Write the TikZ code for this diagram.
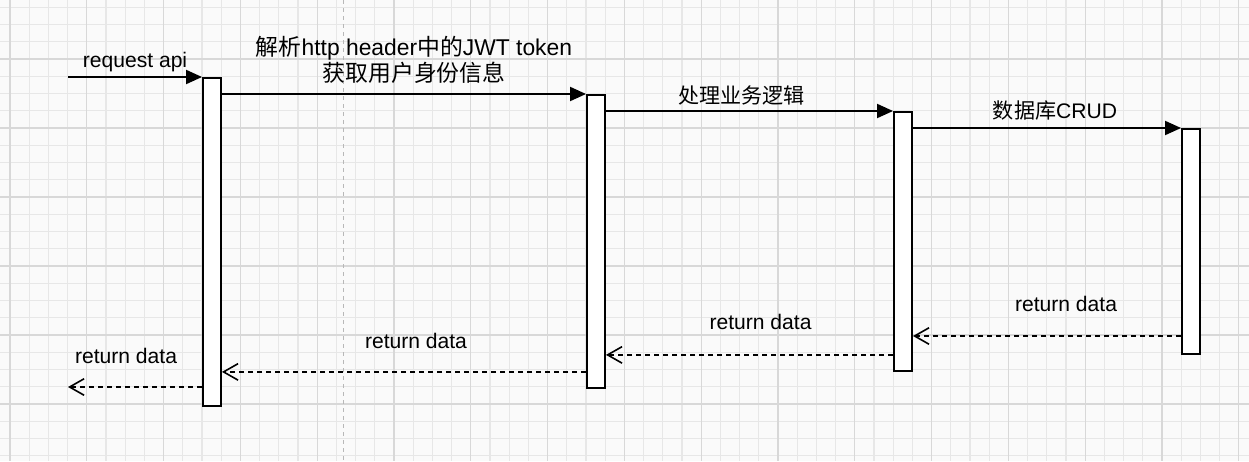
\documentclass[tikz,border=0pt]{standalone}
\usepackage{fontspec}
\setmainfont{Liberation Sans}
\newfontfamily\cjk{Noto Sans CJK SC}
\usepackage{xcolor}
\usetikzlibrary{arrows.meta,positioning,calc}

\definecolor{paper}{HTML}{FAFAFA}
\definecolor{gridlo}{HTML}{E7E7E7}
\definecolor{gridhi}{HTML}{D8D8D8}
\definecolor{guideline}{HTML}{B8B8B8}

\begin{document}
\begin{tikzpicture}[
  x=0.2mm, y=-0.2mm,
  every node/.style={font=\fontsize{12}{14}\selectfont},
  bar/.style={draw, fill=white, line width=0.38mm, minimum width=3.6mm, inner sep=0pt, anchor=north},
  call/.style={-{Triangle[length=3.2mm, width=2.8mm]}, line width=0.38mm},
  reply/.style={-{Straight Barb[length=2.9mm, width=3.3mm, line width=0.32mm]}, dash pattern=on 1mm off 0.8mm, line width=0.32mm},
  lbl/.style={align=center, inner sep=0pt},
  minorline/.style={gridlo, line width=0.22mm},
  majorline/.style={gridhi, line width=0.26mm}
]
  \useasboundingbox (0,0) rectangle (1249,461);

  % grid paper
  \fill[paper] (0,0) rectangle (1249,461);
  \foreach \k in {0,...,64}
    \draw[minorline] ({10+19.2*\k},0) -- ({10+19.2*\k},461);
  \foreach \k in {-7,...,19}
    \draw[minorline] (0,{128+17.25*\k}) -- (1249,{128+17.25*\k});
  \foreach \k in {0,...,16}
    \draw[majorline] ({10+76.8*\k},0) -- ({10+76.8*\k},461);
  \foreach \k in {-1,...,4}
    \draw[majorline] (0,{128+69*\k}) -- (1249,{128+69*\k});
  \draw[guideline, line width=0.2mm, dash pattern=on 0.8mm off 0.8mm] (343,0) -- (343,461);

  % activation bars
  \node[bar, minimum height=65.6mm] (b1) at (212,77) {};
  \node[bar, minimum height=58.6mm] (b2) at (596,94) {};
  \node[bar, minimum height=51.8mm] (b3) at (903,111) {};
  \node[bar, minimum height=45mm] (b4) at (1191,128) {};

  \coordinate (src) at (68,77);
  \coordinate (dst) at (68,387);
  \coordinate (r1) at (0,336);

  % calls
  \draw[call] (src) -- node[lbl, yshift=2.9mm]{request api} (b1.north west);
  \draw[call] (b1.east |- b2.north) -- node[lbl, yshift=6.8mm, xshift=2mm,
      font=\fontsize{13}{14.8}\selectfont]
      {{\cjk 解析}http header{\cjk 中的}JWT token\\{\cjk 获取用户身份信息}} (b2.north west);
  \draw[call] (b2.east |- b3.north) -- node[lbl, yshift=3.2mm, xshift=-1.6mm]{\cjk 处理业务逻辑} (b3.north west);
  \draw[call] (b3.east |- b4.north) -- node[lbl, yshift=3.4mm, xshift=1.6mm]{{\cjk 数据库}CRUD} (b4.north west);

  % replies
  \draw[reply] (b4.west |- r1) -- node[lbl, yshift=6.4mm, xshift=3.8mm]{return data} (b3.east |- r1);
  \draw[reply] (b3.west |- b4.south) -- node[lbl, yshift=6.5mm, xshift=2.2mm]{return data} (b2.east |- b4.south);
  \draw[reply] (b2.west |- b3.south) -- node[lbl, yshift=6.2mm, xshift=2.4mm]{return data} (b1.east |- b3.south);
  \draw[reply] (b1.west |- dst) -- node[lbl, yshift=6.2mm, xshift=-1.8mm]{return data} (dst);
\end{tikzpicture}
\end{document}
